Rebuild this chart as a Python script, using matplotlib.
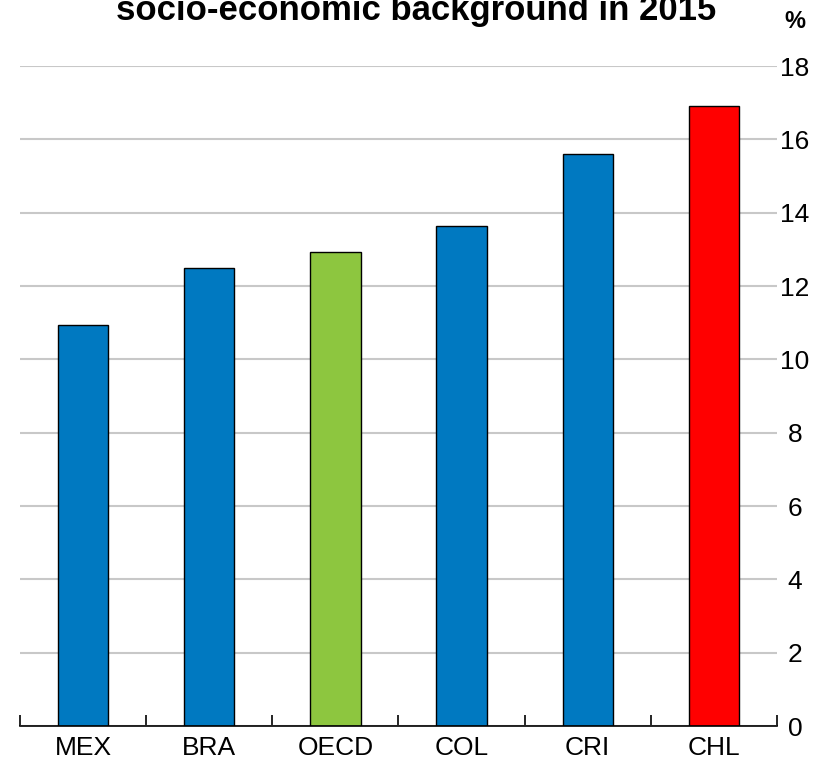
import matplotlib
matplotlib.use("Agg")
import matplotlib.pyplot as plt
import numpy as np

categories = ["MEX", "BRA", "OECD", "COL", "CRI", "CHL"]
values = [10.93, 12.48, 12.93, 13.65, 15.61, 16.9]
bar_colors = ["#0079C1", "#0079C1", "#8DC63F", "#0079C1", "#0079C1", "#FF0000"]
yticks = [0, 2, 4, 6, 8, 10, 12, 14, 16, 18]

plt.rcParams['font.family'] = ['Liberation Sans', 'DejaVu Sans']

fig = plt.figure(figsize=(8.3, 7.64), dpi=100)
ax = fig.add_axes([20/830, 1-726/764, (777-20)/830, (726-66)/764])

x = np.arange(len(categories))
ax.bar(x, values, width=0.4, color=bar_colors, edgecolor="black", linewidth=1.0, zorder=3)

ax.set_xlim(-0.5, len(categories) - 0.5)
ax.set_ylim(0, 18)
ax.set_yticks(yticks)
ax.yaxis.tick_right()
ax.tick_params(axis='y', length=0, labelsize=19, pad=13)
for lbl in ax.get_yticklabels():
    lbl.set_horizontalalignment('center')
ax.grid(axis='y', color="#C8C8C8", linewidth=1.5, zorder=0)

ax.set_xticks(x)
ax.set_xticklabels(categories)
ax.tick_params(axis='x', which='major', length=0, labelsize=19, pad=7)
ax.set_xticks(np.arange(-0.5, len(categories), 1.0), minor=True)
ax.tick_params(axis='x', which='minor', direction='in', length=8, width=1.2, color='black')

for s in ['top', 'left', 'right']:
    ax.spines[s].set_visible(False)
ax.spines['bottom'].set_linewidth(1.2)
ax.spines['bottom'].set_zorder(4)

fig.text(416/830, 1-20/764, "socio-economic background in 2015", ha='center', va='baseline',
         fontsize=25, fontweight='bold')
fig.text(795/830, 1-22/764, "%", ha='center', va='center', fontsize=17, fontweight='bold')

fig.savefig("out.png", dpi=100)
